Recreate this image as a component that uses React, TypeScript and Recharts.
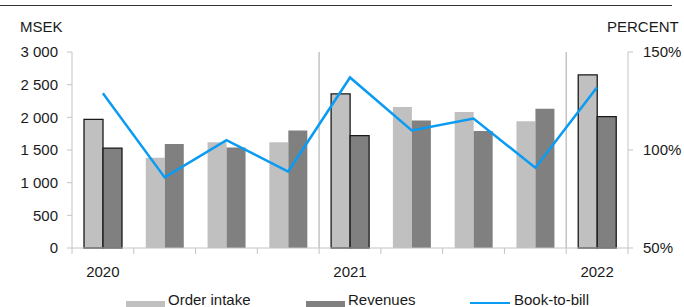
import React from 'react';
import {
  ComposedChart,
  Bar,
  Line,
  XAxis,
  YAxis,
  Cell,
  ReferenceLine
} from 'recharts';

const quarters = ['Q1 2020', 'Q2 2020', 'Q3 2020', 'Q4 2020', 'Q1 2021', 'Q2 2021', 'Q3 2021', 'Q4 2021', 'Q1 2022'];
const orderIntake = [1970, 1380, 1620, 1620, 2360, 2160, 2080, 1940, 2650];
const revenues = [1530, 1590, 1540, 1800, 1720, 1950, 1790, 2130, 2010];
const bookToBill = [129, 86, 105, 89, 137, 110, 116, 91, 132];
const msekTicks = [0, 500, 1000, 1500, 2000, 2500, 3000];
const pctTicks = [50, 100, 150];
const yearStarts = ['Q1 2021', 'Q1 2022'];

const data = quarters.map((q, i) => ({
  q,
  oi: orderIntake[i],
  rev: revenues[i],
  btb: bookToBill[i]
}));

const FONT = '"Liberation Sans", Arial, sans-serif';
const AXIS = '#c4c4c4';
const TEXT = '#1a1a1a';

const fmtMsek = (v: number) => String(v).replace(/\B(?=(\d{3})+(?!\d))/g, ' ');

const QuarterTick = (props: any) => {
  const { x, y, payload, index, width, visibleTicksCount } = props;
  const half = width / visibleTicksCount / 2;
  const isYear = String(payload.value).startsWith('Q1');
  const last = index === visibleTicksCount - 1;
  return (
    <g>
      <line x1={x - half} x2={x - half} y1={y} y2={y + 6} stroke={AXIS} />
      {last && <line x1={x + half} x2={x + half} y1={y} y2={y + 6} stroke={AXIS} />}
      {isYear && (
        <text x={x} y={y + 29} textAnchor="middle" fill={TEXT} fontSize={15} fontFamily={FONT}>
          {String(payload.value).slice(3)}
        </text>
      )}
    </g>
  );
};

// legend entries (Excel-style, left edge of each entry)
const legendItems = [
  { name: 'Order intake', color: '#c0c0c0', kind: 'bar', left: 126 },
  { name: 'Revenues', color: '#808080', kind: 'bar', left: 306 },
  { name: 'Book-to-bill', color: '#0a9bf2', kind: 'line', left: 470 }
];

const App = () => {
  return (
    <div style={{ position: 'absolute', left: 0, top: 0, width: 684, height: 307, fontFamily: FONT, background: '#fff', overflow: 'hidden' }}>
      <div style={{ position: 'absolute', left: 0, top: 5, width: 672, height: 1, background: '#333' }} />
      <div style={{ position: 'absolute', left: 20, top: 18, fontSize: 15, color: TEXT }}>MSEK</div>
      <div style={{ position: 'absolute', left: 607, top: 18, fontSize: 15, color: TEXT }}>PERCENT</div>
      <ComposedChart
        width={684}
        height={307}
        data={data}
        margin={{ top: 52, right: 0, left: 0, bottom: 0 }}
        barGap={0}
      >
        <XAxis
          dataKey="q"
          height={59}
          interval={0}
          tickSize={0}
          tickMargin={0}
          stroke={AXIS}
          tickLine={false}
          tick={<QuarterTick />}
        />
        <YAxis
          yAxisId="left"
          width={72}
          domain={[0, 3000]}
          ticks={msekTicks}
          tickFormatter={fmtMsek}
          stroke={AXIS}
          tickSize={5}
          tickMargin={9}
          tick={{ fill: TEXT, fontSize: 15, fontFamily: FONT }}
        />
        <YAxis
          yAxisId="right"
          orientation="right"
          width={56}
          domain={[50, 150]}
          ticks={pctTicks}
          tickFormatter={(v: number) => `${v}%`}
          stroke={AXIS}
          tickSize={5}
          tickMargin={10}
          tick={{ fill: TEXT, fontSize: 15, fontFamily: FONT, textAnchor: 'start' }}
        />
        {yearStarts.map((q) => (
          <ReferenceLine key={q} x={q} yAxisId="left" position="start" stroke={AXIS} strokeWidth={1.5} />
        ))}
        <Bar dataKey="oi" yAxisId="left" fill="#c0c0c0" barSize={19} isAnimationActive={false}>
          {quarters.map((q) => (
            <Cell key={q} stroke={q.startsWith('Q1') ? '#1a1a1a' : 'none'} strokeWidth={1.3} />
          ))}
        </Bar>
        <Bar dataKey="rev" yAxisId="left" fill="#808080" barSize={19} isAnimationActive={false}>
          {quarters.map((q) => (
            <Cell key={q} stroke={q.startsWith('Q1') ? '#1a1a1a' : 'none'} strokeWidth={1.3} />
          ))}
        </Bar>
        <Line
          dataKey="btb"
          yAxisId="right"
          type="linear"
          stroke="#0a9bf2"
          strokeWidth={2.5}
          dot={false}
          isAnimationActive={false}
        />
      </ComposedChart>
      {legendItems.map((it) => (
        <div key={it.name} style={{ position: 'absolute', left: it.left, top: 291, fontSize: 15, color: TEXT, whiteSpace: 'nowrap' }}>
          {it.kind === 'bar' ? (
            <span style={{ position: 'absolute', left: 0, top: 10, width: 39, height: 13, background: it.color }} />
          ) : (
            <span style={{ position: 'absolute', left: 0, top: 11, width: 40, height: 2, background: it.color }} />
          )}
          <span style={{ marginLeft: it.kind === 'bar' ? 42 : 44 }}>{it.name}</span>
        </div>
      ))}
    </div>
  );
};

export default App;
